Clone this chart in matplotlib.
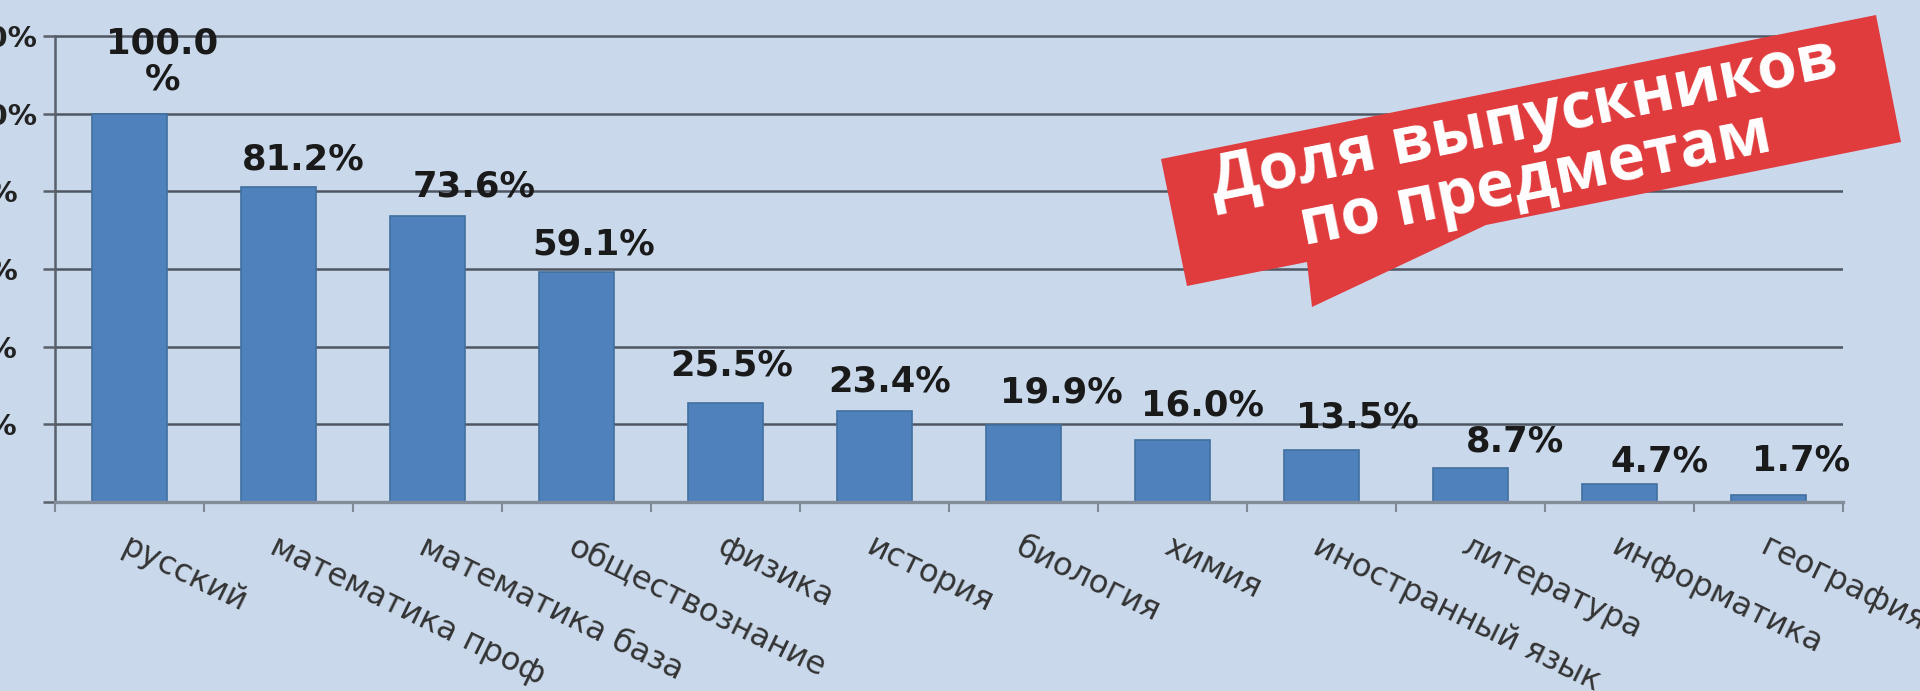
import matplotlib
matplotlib.use('Agg')
import matplotlib.pyplot as plt
from matplotlib.patches import Polygon
from matplotlib.ticker import FuncFormatter, FixedLocator

# ---- data ----
categories = ['русский', 'математика проф', 'математика база', 'обществознание',
              'физика', 'история', 'биология', 'химия', 'иностранный язык',
              'литература', 'информатика', 'география']
shares = [100.0, 81.2, 73.6, 59.1, 25.5, 23.4, 19.9, 16.0, 13.5, 8.7, 4.7, 1.7]
y_ticks = [0, 20, 40, 60, 80, 100, 120]
title_lines = ['Доля выпускников', 'по предметам']

# ---- label nudges (pixels, relative to bar top centre) ----
label_dx = [33, 25, 47, 17, 6, 15, 38, 30, 36, 44, 40, 33]
label_dy = [52, 27, 30, 28, 37, 30, 32, 34, 32, 27, 22, 35]

W, H = 1920, 691
BG = '#c9d9eb'
fig = plt.figure(figsize=(W / 100, H / 100), dpi=100)
fig.patch.set_facecolor(BG)

y0_px, px_per_unit = 502, (502 - 36) / 120.0
ymax = 121
top_px = y0_px - ymax * px_per_unit
ax = fig.add_axes([55 / W, 1 - y0_px / H, (1843 - 55) / W, (y0_px - top_px) / H])
ax.set_facecolor(BG)

xs = list(range(len(categories)))
ax.bar(xs, shares, width=0.5, color='#4f81bd', edgecolor='#41709f',
       linewidth=1.2, zorder=3)
ax.set_xlim(-0.5, len(categories) - 0.5)
ax.set_ylim(0, ymax)

# y axis
ax.set_yticks(y_ticks)
ax.yaxis.set_major_formatter(FuncFormatter(lambda v, p: f'{v:.0f}%'))
ax.tick_params(axis='y', direction='out', length=8.6, width=1.8, color='#59606a',
               pad=68.4, labelsize=21, labelcolor='#222222')
for lbl in ax.get_yticklabels():
    lbl.set_horizontalalignment('left')
    lbl.set_fontweight('bold')
ax.grid(axis='y', color='#4f5661', linewidth=1.8, zorder=1)
ax.set_axisbelow(True)

# x axis
ax.set_xticks(xs)
ax.set_xticklabels(categories, rotation=-26, ha='left', rotation_mode='anchor',
                   fontsize=23, color='#333333')
ax.tick_params(axis='x', which='major', length=0, pad=21)
ax.xaxis.set_minor_locator(FixedLocator([i - 0.5 for i in range(len(categories) + 1)]))
ax.tick_params(axis='x', which='minor', direction='out', length=7.2, width=1.5,
               color='#7f8a96')

for s in ['top', 'right']:
    ax.spines[s].set_visible(False)
ax.spines['left'].set_bounds(0, 120)
ax.spines['left'].set_color('#59606a')
ax.spines['left'].set_linewidth(1.8)
ax.spines['bottom'].set_color('#838d99')
ax.spines['bottom'].set_linewidth(2.4)
ax.spines['bottom'].set_zorder(4)

# data labels
for i, v in enumerate(shares):
    txt = f'{v:.1f}\n%' if v >= 100 else f'{v:.1f}%'
    ax.annotate(txt, xy=(i, v), xytext=(label_dx[i], label_dy[i]),
                textcoords='offset pixels', ha='center', va='center',
                fontsize=25.5, fontweight='bold', color='#1a1a1a',
                linespacing=1.05, zorder=5)

# ---- red banner overlay ----
ov = fig.add_axes([0, 0, 1, 1])
ov.set_xlim(0, W)
ov.set_ylim(H, 0)
ov.axis('off')
ov.patch.set_alpha(0)
banner = [(1161, 159), (1876, 15), (1901, 142), (1486, 225), (1312, 307),
          (1307, 262), (1187, 286)]
ov.add_patch(Polygon(banner, closed=True, facecolor='#e03b3d', edgecolor='none'))
line_pos = [(1527, 138), (1539, 198)]
for (tx, ty), line in zip(line_pos, title_lines):
    ov.text(tx, ty, line, rotation=11.4, rotation_mode='anchor', ha='center',
            va='baseline', fontsize=46, fontweight='bold', color='white',
            family=['Open Sans', 'DejaVu Sans'])

fig.savefig('out.png', dpi=100, facecolor=BG)
